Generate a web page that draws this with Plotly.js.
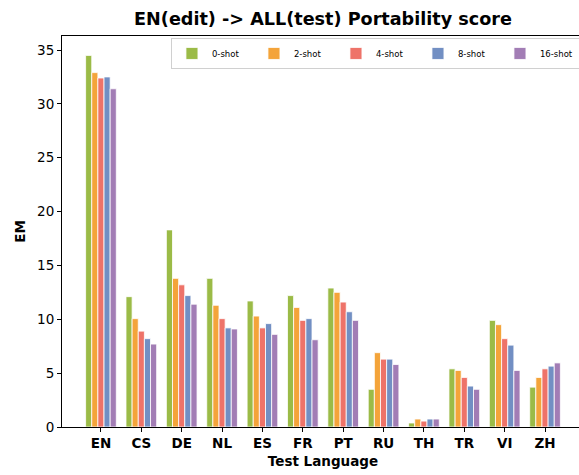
<!DOCTYPE html>
<html>
<head>
<meta charset="utf-8">
<script src="https://cdn.plot.ly/plotly-3.0.1.min.js"></script>
<style>
html,body{margin:0;padding:0;overflow:hidden;width:579px;height:475px;background:#fff;}
#chart{width:600px;height:475px;}
</style>
</head>
<body>
<div id="chart"></div>
<script>
const languages = ["EN","CS","DE","NL","ES","FR","PT","RU","TH","TR","VI","ZH"];
const shot0  = [34.5, 12.1, 18.3, 13.8, 11.7, 12.2, 12.9, 3.5, 0.37, 5.4, 9.9, 3.7];
const shot2  = [32.9, 10.06, 13.8, 11.3, 10.3, 11.1, 12.5, 6.9, 0.74, 5.25, 9.5, 4.6];
const shot4  = [32.4, 8.9, 13.2, 10.06, 9.2, 9.9, 11.6, 6.3, 0.55, 4.6, 8.2, 5.4];
const shot8  = [32.5, 8.2, 12.2, 9.2, 9.6, 10.06, 10.7, 6.3, 0.74, 3.8, 7.6, 5.65];
const shot16 = [31.4, 7.7, 11.4, 9.1, 8.6, 8.1, 9.9, 5.8, 0.74, 3.5, 5.25, 5.95];
const seriesNames = ["0-shot","2-shot","4-shot","8-shot","16-shot"];
const seriesValues = [shot0, shot2, shot4, shot8, shot16];
const colors = ["#9bbb47","#f4a43a","#ee7369","#728fc3","#a27db5"];

const traces = seriesValues.map((vals, i) => ({
  type: "bar",
  name: seriesNames[i],
  x: languages,
  y: vals,
  marker: {color: colors[i], line: {color: "#ffffff", width: 0.8}}
}));

const layout = {
  width: 600, height: 475,
  margin: {l: 62, r: 16, t: 36, b: 48},
  paper_bgcolor: "#fff", plot_bgcolor: "#fff",
  font: {family: "DejaVu Sans, sans-serif", color: "#000", size: 13},
  barmode: "group", bargap: 0.24, bargroupgap: 0,
  title: {text: "<b>EN(edit) -> ALL(test) Portability score</b>", font: {size: 17.6}, x: 0.5, xref: "paper", y: 0.96, yanchor: "middle"},
  xaxis: {
    range: [-0.965, 11.965],
    showline: true, linecolor: "#000", linewidth: 1, mirror: true,
    ticks: "outside", ticklen: 4, tickcolor: "#000",
    tickfont: {size: 13.5, family: "DejaVu Sans, sans-serif"},
    tickvals: languages,
    ticktext: languages.map(l => "<b>" + l + "</b>"),
    showgrid: false, zeroline: false,
    title: {text: "<b>Test Language</b>", font: {size: 13.5}, standoff: 6}
  },
  yaxis: {
    range: [0, 36.3],
    showline: true, linecolor: "#000", linewidth: 1, mirror: true,
    ticks: "outside", ticklen: 4, tickcolor: "#000",
    tickvals: [0,5,10,15,20,25,30,35],
    tickfont: {size: 13.5},
    showgrid: false, zeroline: false,
    title: {text: "<b>EM</b>", font: {size: 13.5}, standoff: 8}
  },
  legend: {
    orientation: "h", x: 0.998, xanchor: "right", y: 0.995, yanchor: "top",
    bgcolor: "#fff", bordercolor: "#d0d0d0", borderwidth: 1,
    font: {size: 8.5}, entrywidth: 37, entrywidthmode: "pixels",
    itemwidth: 30, traceorder: "normal"
  },
  showlegend: true
};

Plotly.newPlot("chart", traces, layout, {displayModeBar: false, staticPlot: true});
</script>
</body>
</html>
